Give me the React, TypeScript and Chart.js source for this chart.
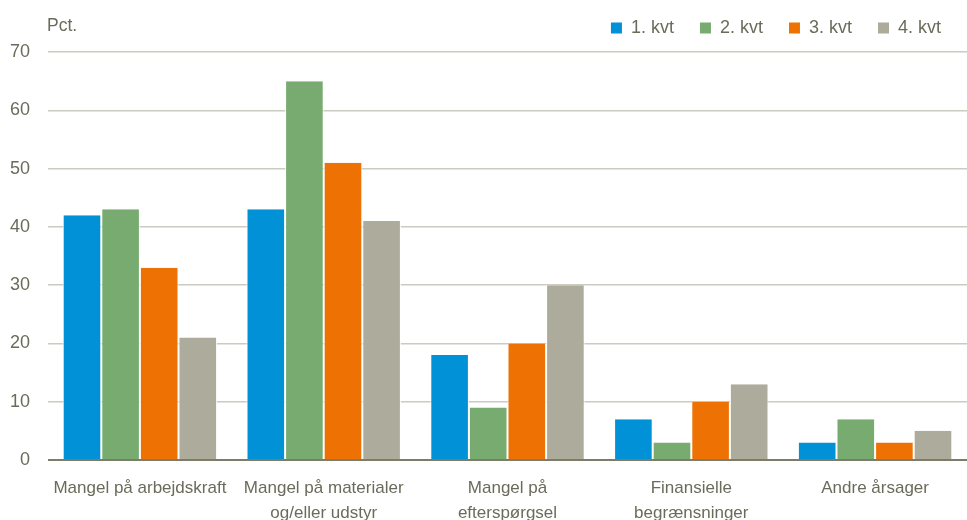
import React, { useEffect, useRef } from "react";
import { Chart, registerables } from "chart.js";

Chart.register(...registerables);

const categories: (string | string[])[] = [
  "Mangel på arbejdskraft",
  ["Mangel på materialer", "og/eller udstyr"],
  ["Mangel på", "efterspørgsel"],
  ["Finansielle", "begrænsninger"],
  "Andre årsager",
];
const seriesNames = ["1. kvt", "2. kvt", "3. kvt", "4. kvt"];
const q1 = [42, 43, 18, 7, 3];
const q2 = [43, 65, 9, 3, 7];
const q3 = [33, 51, 20, 10, 3];
const q4 = [21, 41, 30, 13, 5];
const colors = ["#0091d6", "#77ab6f", "#ee7203", "#adab9b"];
const yTicks = [0, 10, 20, 30, 40, 50, 60, 70];
const unitLabel = "Pct.";

const textColor = "#6b6b5b";
const fontFamily = "'Liberation Sans', Arial, sans-serif";

export default function App() {
  const ref = useRef<HTMLCanvasElement | null>(null);

  useEffect(() => {
    document.body.style.margin = "0";
    document.body.style.overflow = "hidden";
    const canvas = ref.current;
    if (!canvas) return;

    const unitPlugin = {
      id: "unitLabel",
      afterDraw(chart: any) {
        const { ctx, chartArea } = chart;
        ctx.save();
        ctx.font = `17.5px ${fontFamily}`;
        ctx.fillStyle = textColor;
        ctx.textAlign = "left";
        ctx.textBaseline = "middle";
        ctx.fillText(unitLabel, chartArea.left - 1, 26);
        ctx.restore();
      },
    };

    const data = [q1, q2, q3, q4];
    const chart = new Chart(canvas, {
      type: "bar",
      data: {
        labels: categories,
        datasets: seriesNames.map((name, i) => ({
          label: name,
          data: data[i],
          backgroundColor: colors[i],
          borderColor: "#ffffff",
          borderWidth: { left: 1, right: 1, top: 0, bottom: 0 } as any,
          barPercentage: 1,
          categoryPercentage: 0.84,
        })),
      },
      options: {
        animation: false,
        responsive: true,
        maintainAspectRatio: false,
        layout: { padding: { top: 3, right: 0, left: 0, bottom: 0 } },
        plugins: {
          title: {
            display: true,
            text: "",
            position: "top",
            weight: 500,
            font: { size: 5, lineHeight: 1 },
            padding: 0,
          } as any,
          legend: {
            position: "top",
            align: "end",
            labels: {
              boxWidth: 11,
              boxHeight: 11,
              padding: 16,
              color: textColor,
              font: { size: 18, family: fontFamily },
              generateLabels: (chart: any) =>
                chart.data.datasets.map((ds: any, i: number) => ({
                  text: ds.label + "  ",
                  fillStyle: ds.backgroundColor,
                  strokeStyle: ds.backgroundColor,
                  lineWidth: 0,
                  hidden: false,
                  datasetIndex: i,
                  fontColor: textColor,
                })),
            },
          },
          tooltip: { enabled: false },
        },
        scales: {
          x: {
            grid: { display: false, drawTicks: false },
            border: { display: false },
            ticks: {
              color: textColor,
              font: { size: 17, family: fontFamily, lineHeight: 1.45 },
              padding: 16,
              maxRotation: 0,
              autoSkip: false,
            },
            afterFit: (scale: any) => {
              scale.height = 80;
            },
          },
          y: {
            min: 0,
            max: 70,
            afterBuildTicks: (scale: any) => {
              scale.ticks = yTicks.map((v) => ({ value: v }));
            },
            grid: {
              drawTicks: false,
              color: (c: any) => (c.tick && c.tick.value === 0 ? "#7c7c68" : "#cbcbc0"),
              lineWidth: (c: any) => (c.tick && c.tick.value === 0 ? 2 : 1.5),
            },
            border: { display: false },
            ticks: {
              color: textColor,
              font: { size: 18, family: fontFamily },
              padding: 18,
            },
            afterFit: (scale: any) => {
              scale.width = 48;
            },
          },
        },
      },
      plugins: [unitPlugin],
    });
    return () => chart.destroy();
  }, []);

  return (
    <div style={{ position: "fixed", left: 0, top: 0, width: 967, height: 520, overflow: "hidden", background: "#fff" }}>
      <div style={{ position: "relative", width: 967, height: 540 }}>
        <canvas ref={ref} />
      </div>
    </div>
  );
}
